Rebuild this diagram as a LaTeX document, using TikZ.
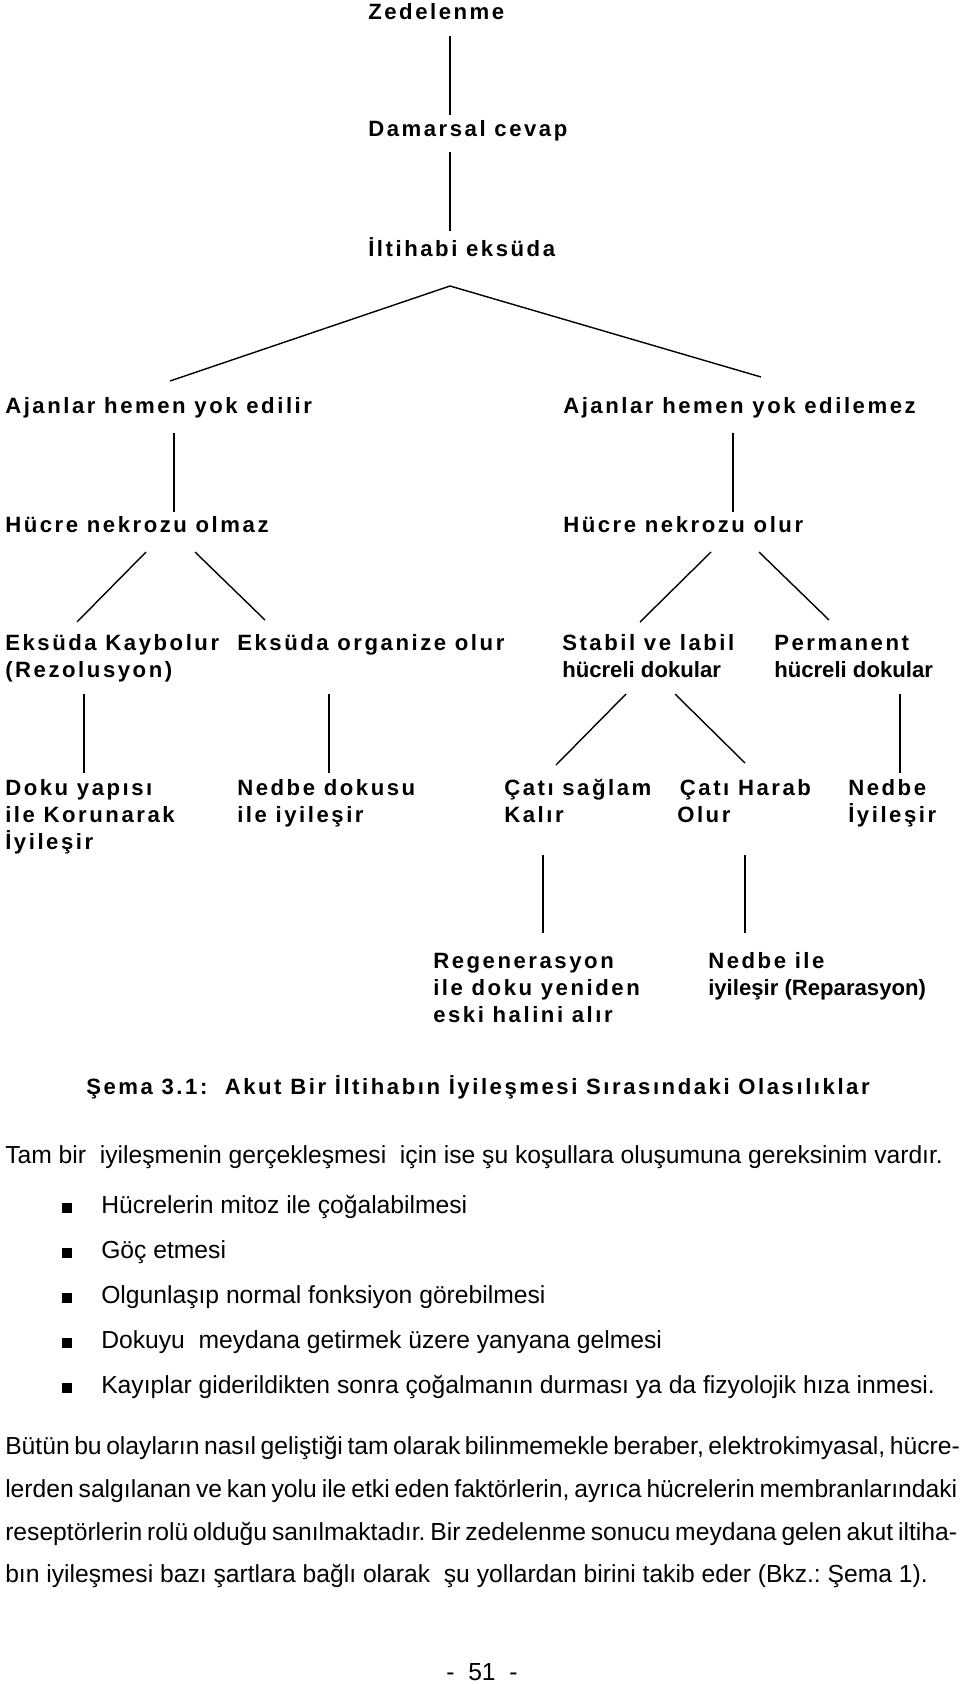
\documentclass[tikz,border=0pt]{standalone}
\usepackage{fontspec}
\setmainfont{Liberation Sans}
\newfontfamily\dgfont{Liberation Sans}[LetterSpace=11.5]
\newcommand{\ml}[1]{\begin{tabular}[t]{@{}l@{}}#1\end{tabular}}
\newcommand{\nls}{\rmfamily\bfseries}
\frenchspacing
\begin{document}
\begin{tikzpicture}[x=0.75pt,y=-0.75pt,
  lbl/.style={inner sep=0pt, anchor=base west, font=\dgfont\bfseries\fontsize{16.6}{20.25}\selectfont},
  body/.style={inner sep=0pt, anchor=base west, font=\rmfamily\fontsize{18.5}{22}\selectfont},
  conn/.style={line width=1.05pt},
  sq/.style={fill=black, draw=none, minimum size=7.2pt, inner sep=0pt, anchor=south west}]
\useasboundingbox (0,0) rectangle (960,1684);
\fill[white] (0,0) rectangle (960,1684);

% diagram labels
\node[lbl] (zed) at (368,20) {Zedelenme};
\node[lbl] (dam) at (368,137) {Damarsal cevap};
\node[lbl] (ilt) at (368,256) {İltihabi eksüda};
\node[lbl] (ajl) at (5,413) {Ajanlar hemen yok edilir};
\node[lbl] (ajr) at (563,413) {Ajanlar hemen yok edilemez};
\node[lbl] (hnl) at (5,532) {Hücre nekrozu olmaz};
\node[lbl] (hnr) at (563,532) {Hücre nekrozu olur};
\node[lbl] (ek) at (5,650) {\ml{Eksüda Kaybolur\\(Rezolusyon)}};
\node[lbl] (eo) at (237,650) {Eksüda organize olur};
\node[lbl] (st) at (562,650) {\ml{Stabil ve labil\\{\nls hücreli dokular}}};
\node[lbl] (pm) at (774,650) {\ml{Permanent\\{\nls hücreli dokular}}};
\node[lbl] (dy) at (5,795) {\ml{Doku yapısı\\ile Korunarak\\İyileşir}};
\node[lbl] (nd) at (237,795) {\ml{Nedbe dokusu\\ile iyileşir}};
\node[lbl] (cs) at (504,795) {\ml{Çatı sağlam\\Kalır}};
\node[lbl] (ch) at (677,795) {\ml{\hspace{2pt}Çatı Harab\\Olur}};
\node[lbl] (nb) at (848,795) {\ml{Nedbe\\İyileşir}};
\node[lbl] (rg) at (433,968) {\ml{Regenerasyon\\ile doku yeniden\\eski halini alır}};
\node[lbl] (ni) at (708,968) {\ml{Nedbe ile\\{\nls iyileşir (Reparasyon)}}};
\node[lbl] (cap) at (86,1094) {Şema 3.1:~ Akut Bir İltihabın İyileşmesi Sırasındaki Olasılıklar};

% connector end points
\coordinate (a1) at (450,36);  \coordinate (a2) at (450,115);
\coordinate (b1) at (450,152); \coordinate (b2) at (450,231);
\coordinate (v0) at (450,286); \coordinate (vl) at (170,381); \coordinate (vr) at (761,377);
\coordinate (d1) at (174,433); \coordinate (d2) at (174,512);
\coordinate (e1) at (733,433); \coordinate (e2) at (733,512);
\coordinate (f1) at (146,552); \coordinate (f2) at (77,622);
\coordinate (g1) at (195,552); \coordinate (g2) at (265,620);
\coordinate (h1) at (711,552); \coordinate (h2) at (640,622);
\coordinate (i1) at (759,552); \coordinate (i2) at (829,620);
\coordinate (j1) at (84,694);  \coordinate (j2) at (84,773);
\coordinate (k1) at (329,694); \coordinate (k2) at (329,773);
\coordinate (m1) at (900,694); \coordinate (m2) at (900,773);
\coordinate (n1) at (626,694); \coordinate (n2) at (556,765);
\coordinate (o1) at (675,694); \coordinate (o2) at (745,763);
\coordinate (p1) at (543,855); \coordinate (p2) at (543,933);
\coordinate (q1) at (745,855); \coordinate (q2) at (745,933);

\draw[conn] (a1) -- (a2);
\draw[conn] (b1) -- (b2);
\draw[conn] (vl) -- (v0) -- (vr);
\draw[conn] (d1) -- (d2);
\draw[conn] (e1) -- (e2);
\draw[conn] (f1) -- (f2);
\draw[conn] (g1) -- (g2);
\draw[conn] (h1) -- (h2);
\draw[conn] (i1) -- (i2);
\draw[conn] (j1) -- (j2);
\draw[conn] (k1) -- (k2);
\draw[conn] (m1) -- (m2);
\draw[conn] (n1) -- (n2);
\draw[conn] (o1) -- (o2);
\draw[conn] (p1) -- (p2);
\draw[conn] (q1) -- (q2);

% body text
\node[body] (tam) at (5,1163) {Tam bir~ iyileşmenin gerçekleşmesi~ için ise şu koşullara oluşumuna gereksinim vardır.};
\node[sq] (s1) at (62,1213) {};
\node[sq] (s2) at (62,1258) {};
\node[sq] (s3) at (62,1303) {};
\node[sq] (s4) at (62,1348) {};
\node[sq] (s5) at (62,1393) {};
\node[body] (t1) at (101,1213) {Hücrelerin mitoz ile çoğalabilmesi};
\node[body] (t2) at (101,1258) {Göç etmesi};
\node[body] (t3) at (101,1303) {Olgunlaşıp normal fonksiyon görebilmesi};
\node[body] (t4) at (101,1348) {Dokuyu~ meydana getirmek üzere yanyana gelmesi};
\node[body] (t5) at (101,1393) {Kayıplar giderildikten sonra çoğalmanın durması ya da fizyolojik hıza inmesi.};
\node[body] (pa) at (5,1454) {\makebox[714pt][s]{Bütün bu olayların nasıl geliştiği tam olarak bilinmemekle beraber, elektrokimyasal, hücre-}};
\node[body] (pb) at (5,1497) {\makebox[714pt][s]{lerden salgılanan ve kan yolu ile etki eden faktörlerin, ayrıca hücrelerin membranlarındaki}};
\node[body] (pc) at (5,1540) {\makebox[714pt][s]{reseptörlerin rolü olduğu sanılmaktadır. Bir zedelenme sonucu meydana gelen akut iltiha-}};
\node[body] (pd) at (5,1582) {bın iyileşmesi bazı şartlara bağlı olarak~ şu yollardan birini takib eder (Bkz.: Şema 1).};
\node[body, anchor=base] (pg) at (482,1680) {-~ 51~ -};
\end{tikzpicture}
\end{document}
